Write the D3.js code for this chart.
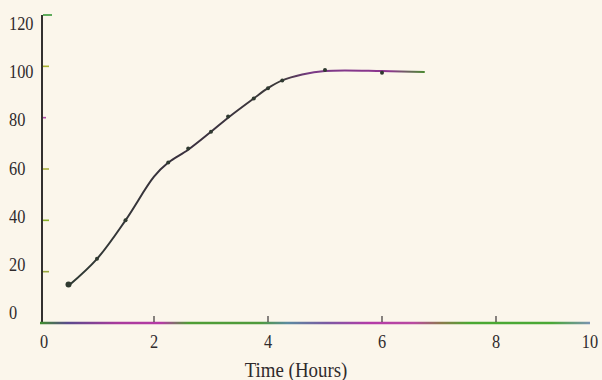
<html>
  <head>
    <title>growth curve</title>
    <script src="https://d3js.org/d3.v7.min.js"></script>
    <style>
      body { margin: 0; background: #fbf6eb; }
      text { font-family: "Liberation Serif", "DejaVu Serif", serif; fill: #2f2a2b; }
    </style>
  </head>
  <body>
    <div id="wrapper"></div>
    <script>
      // measured points (dots on the curve)
      var obsTime = [0.5, 1.0, 1.5, 2.25, 2.6, 3.0, 3.3, 3.75, 4.0, 4.25, 5.0, 6.0];
      var obsPct  = [15, 25, 40, 62.5, 68, 74.5, 80.5, 87.5, 91.5, 94.5, 98.6, 97.5];

      // hand drawn smooth curve through them
      var curveTime = [0.5, 1.0, 1.5, 2.0, 2.25, 2.6, 3.0, 3.3, 3.75, 4.0, 4.25, 4.6, 5.0, 6.0, 6.75];
      var curvePct  = [14.5, 25, 40, 57, 62.5, 67.5, 74.5, 80, 87.5, 91.5, 94.5, 96.8, 98.2, 98.2, 97.8];

      var xTicks = [0, 2, 4, 6, 8, 10];
      var yTicks = [0, 20, 40, 60, 80, 100, 120];
      var xTitle = "Time (Hours)";

      var W = 602, H = 380;
      var svg = d3.select("#wrapper").append("svg")
        .attr("width", W).attr("height", H);

      svg.append("rect").attr("width", W).attr("height", H).attr("fill", "#fbf6eb");

      var x = d3.scaleLinear().domain([0, 10]).range([40, 610]);
      var y = d3.scaleLinear().domain([0, 120]).range([323, 15]);
      // printed labels sit on a slightly tighter spacing than the ticks
      var yLab = d3.scaleLinear().domain([0, 120]).range([319, 30]);
      var xEnd = 590;

      var defs = svg.append("defs");
      // colour fringes of the scan along the x axis
      var gx = defs.append("linearGradient").attr("id", "gx")
        .attr("gradientUnits", "userSpaceOnUse")
        .attr("x1", 40).attr("x2", xEnd).attr("y1", 0).attr("y2", 0);
      [[0, "#3f8f2c"], [0.05, "#5a4a8c"], [0.14, "#a83a9c"], [0.22, "#b53aa5"], [0.27, "#4f9e35"],
       [0.4, "#4f9a3c"], [0.45, "#5b8aa0"], [0.52, "#7a5aa2"], [0.6, "#b43aa8"], [0.68, "#b84aa0"],
       [0.73, "#8a7a4a"], [0.78, "#4aa832"], [0.93, "#4aa836"], [1, "#7a92b2"]]
        .forEach(function(s) { gx.append("stop").attr("offset", s[0]).attr("stop-color", s[1]); });

      var gc = defs.append("linearGradient").attr("id", "gc")
        .attr("gradientUnits", "userSpaceOnUse")
        .attr("x1", x(0.5)).attr("x2", x(6.75)).attr("y1", 0).attr("y2", 0);
      [[0, "#2f3a33"], [0.35, "#3b3040"], [0.6, "#3c3a3a"], [0.68, "#7a3a86"], [0.9, "#8e3590"], [1, "#4a8a30"]]
        .forEach(function(s) { gc.append("stop").attr("offset", s[0]).attr("stop-color", s[1]); });

      // y axis
      svg.append("line")
        .attr("x1", 42).attr("x2", 42)
        .attr("y1", y(120)).attr("y2", y(0) + 1)
        .attr("stroke", "#33302f").attr("stroke-width", 2);

      var yTickColor = ["#4a9a35", "#9aa840", "#8ab02a", "#a8b040", "#b04aa8", "#a8b030", "#3a9a3a"];
      svg.selectAll(".ytick").data(yTicks.slice(1)).enter().append("line")
        .attr("x1", 43).attr("x2", function(d) { return d == 120 ? 52 : (d == 80 ? 46 : 49); })
        .attr("y1", function(d) { return y(d); }).attr("y2", function(d) { return y(d); })
        .attr("stroke", function(d, i) { return yTickColor[i + 1]; })
        .attr("stroke-width", 1.6);

      svg.selectAll(".ylab").data(yTicks).enter().append("text")
        .attr("transform", function(d) { return "translate(9," + yLab(d) + ") scale(0.86,1)"; })
        .style("font-size", "19px")
        .text(function(d) { return d; });

      // x axis
      svg.append("line")
        .attr("x1", x(0)).attr("x2", xEnd)
        .attr("y1", 323).attr("y2", 323)
        .attr("stroke", "url(#gx)").attr("stroke-width", 2.5);

      svg.selectAll(".xtick").data(xTicks.slice(1, 5)).enter().append("line")
        .attr("x1", function(d) { return x(d); }).attr("x2", function(d) { return x(d); })
        .attr("y1", 322).attr("y2", 316)
        .attr("stroke", "#3a3535").attr("stroke-width", 1.2);

      svg.selectAll(".xlab").data(xTicks).enter().append("text")
        .attr("transform", function(d) {
          return "translate(" + (Math.min(x(d), xEnd) + (d == 0 ? 4 : 0)) + ",348) scale(0.86,1)";
        })
        .attr("text-anchor", "middle")
        .style("font-size", "19px")
        .text(function(d) { return d; });

      svg.append("text")
        .attr("transform", "translate(296,377) scale(0.9,1)")
        .attr("text-anchor", "middle")
        .style("font-size", "21px")
        .text(xTitle);

      // growth curve
      var line = d3.line()
        .x(function(d) { return x(d[0]); })
        .y(function(d) { return y(d[1]); })
        .curve(d3.curveCatmullRom.alpha(0.5));

      svg.append("path")
        .datum(d3.zip(curveTime, curvePct))
        .attr("d", line)
        .attr("fill", "none")
        .attr("stroke", "url(#gc)")
        .attr("stroke-width", 2);

      svg.selectAll(".dot").data(d3.zip(obsTime, obsPct)).enter().append("circle")
        .attr("cx", function(d) { return x(d[0]); })
        .attr("cy", function(d) { return y(d[1]); })
        .attr("r", function(d, i) { return i == 0 ? 3 : 2; })
        .attr("fill", "#2f3a30");
    </script>
  </body>
</html>
